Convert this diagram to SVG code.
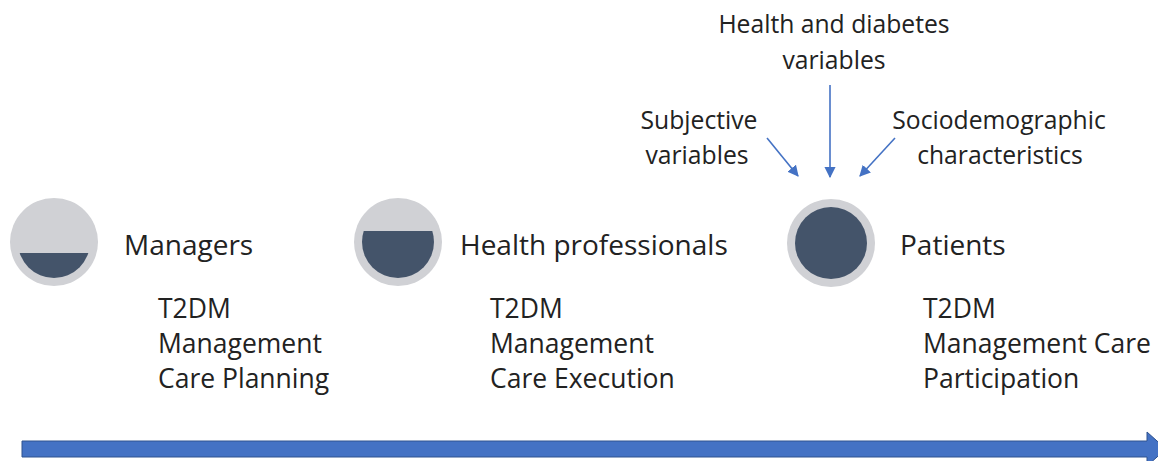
<svg xmlns="http://www.w3.org/2000/svg" width="1158" height="461" viewBox="0 0 1158 461">
<defs>
<style>
.t{font-family:"Open Sans","Noto Sans",sans-serif;fill:#222}
.lbl{font-size:28px}
.det{font-size:26.5px}
.var{font-size:24.7px;text-anchor:middle}
.outer{fill:#D0D1D5}
.inner{fill:#44546A}
.conn{stroke:#4472C4;stroke-width:1.6;fill:none}
</style>
<marker id="ah" viewBox="0 0 10 10" refX="9" refY="5" markerWidth="7" markerHeight="7" orient="auto" markerUnits="strokeWidth">
<path d="M0,0 L10,5 L0,10 z" fill="#4472C4"/>
</marker>
<clipPath id="c1"><rect x="0" y="253" width="120" height="40"/></clipPath>
<clipPath id="c2"><rect x="340" y="231" width="120" height="60"/></clipPath>
</defs>
<rect width="1158" height="461" fill="#fff"/>

<g id="managers">
<circle class="outer" cx="54" cy="242" r="44"/>
<circle class="inner" cx="54" cy="242" r="36" clip-path="url(#c1)"/>
<text class="t lbl" x="124" y="255">Managers</text>
<text class="t det" x="158" y="318">T2DM</text>
<text class="t det" x="158" y="353">Management</text>
<text class="t det" x="158" y="388">Care Planning</text>
</g>

<g id="health-professionals">
<circle class="outer" cx="398" cy="242" r="44"/>
<circle class="inner" cx="398" cy="242" r="36" clip-path="url(#c2)"/>
<text class="t lbl" x="460" y="255">Health professionals</text>
<text class="t det" x="490" y="318">T2DM</text>
<text class="t det" x="490" y="353">Management</text>
<text class="t det" x="490" y="388">Care Execution</text>
</g>

<g id="patients">
<circle class="outer" cx="831" cy="243" r="44"/>
<circle class="inner" cx="831" cy="243" r="36"/>
<text class="t lbl" x="900" y="255">Patients</text>
<text class="t det" x="923" y="318">T2DM</text>
<text class="t det" x="923" y="353">Management Care</text>
<text class="t det" x="923" y="388">Participation</text>
</g>

<g id="health-diabetes-variables">
<text class="t var" x="834" y="33">Health and diabetes</text>
<text class="t var" x="834" y="69">variables</text>
</g>
<g id="subjective-variables">
<text class="t var" x="699" y="129">Subjective</text>
<text class="t var" x="697" y="164">variables</text>
</g>
<g id="sociodemographic">
<text class="t var" x="999" y="129">Sociodemographic</text>
<text class="t var" x="1000" y="164">characteristics</text>
</g>

<g id="connectors">
<line class="conn" x1="830" y1="85" x2="830" y2="177" marker-end="url(#ah)"/>
<line class="conn" x1="767" y1="138" x2="798" y2="176" marker-end="url(#ah)"/>
<line class="conn" x1="895" y1="138" x2="860" y2="176" marker-end="url(#ah)"/>
</g>

<g id="timeline">
<path d="M22,441 L1147,441 L1147,432 L1166,449 L1147,466 L1147,457 L22,457 Z" fill="#4472C4" stroke="#2F528F" stroke-width="1"/>
</g>
</svg>
